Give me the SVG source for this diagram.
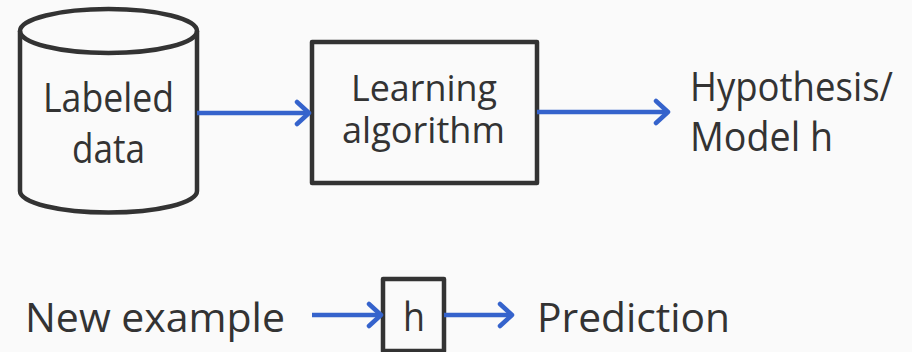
<svg xmlns="http://www.w3.org/2000/svg" width="912" height="352" viewBox="0 0 912 352">
  <style>
    .shape { fill: none; stroke: #333333; stroke-width: 4.5; stroke-linejoin: round; }
    .label { font-family: "Open Sans", "Noto Sans", sans-serif; fill: #333333; font-size: 40px; }
    .tight { font-size: 37px; }
    .edge { fill: none; stroke: #3563cc; stroke-width: 4.5; }
  </style>
  <defs>
    <marker id="chevron" markerUnits="userSpaceOnUse" markerWidth="30" markerHeight="30" viewBox="0 0 30 30" refX="27" refY="15" orient="auto">
      <path d="M15 4 L27 15 L15 26" fill="none" stroke="#3563cc" stroke-width="4.5" stroke-linecap="round" stroke-linejoin="round"/>
    </marker>
  </defs>
  <rect width="912" height="352" fill="#fafafa"/>

  <g id="labeled-data">
    <path class="shape" d="M20 31 L20 191 A88.5 21.5 0 0 0 197 191 L197 31"/>
    <ellipse class="shape" cx="108.5" cy="31" rx="88.5" ry="22"/>
    <text class="label" x="43" y="112" textLength="131" lengthAdjust="spacingAndGlyphs">Labeled</text>
    <text class="label" x="72" y="163" textLength="73" lengthAdjust="spacingAndGlyphs">data</text>
  </g>

  <g id="learning-algorithm">
    <rect class="shape" x="312" y="42" width="225" height="141"/>
    <text class="label tight" x="351" y="101" textLength="146" lengthAdjust="spacingAndGlyphs">Learning</text>
    <text class="label tight" x="342" y="143" textLength="163" lengthAdjust="spacingAndGlyphs">algorithm</text>
  </g>

  <g id="hypothesis">
    <text class="label" x="690" y="101" textLength="203" lengthAdjust="spacingAndGlyphs">Hypothesis/</text>
    <text class="label" x="690" y="151" textLength="143" lengthAdjust="spacingAndGlyphs">Model h</text>
  </g>

  <g id="new-example">
    <text class="label" x="25" y="332" textLength="260" lengthAdjust="spacingAndGlyphs">New example</text>
  </g>

  <g id="h">
    <rect class="shape" x="383" y="279" width="61" height="72"/>
    <text class="label" x="403" y="331" textLength="22" lengthAdjust="spacingAndGlyphs">h</text>
  </g>

  <g id="prediction">
    <text class="label" x="537" y="332" textLength="193" lengthAdjust="spacingAndGlyphs">Prediction</text>
  </g>

  <g id="connectors">
    <path class="edge" d="M197 113 L309 113" marker-end="url(#chevron)"/>
    <path class="edge" d="M537 112 L668 112" marker-end="url(#chevron)"/>
    <path class="edge" d="M312 315 L381 315" marker-end="url(#chevron)"/>
    <path class="edge" d="M444 315 L512 315" marker-end="url(#chevron)"/>
  </g>
</svg>
